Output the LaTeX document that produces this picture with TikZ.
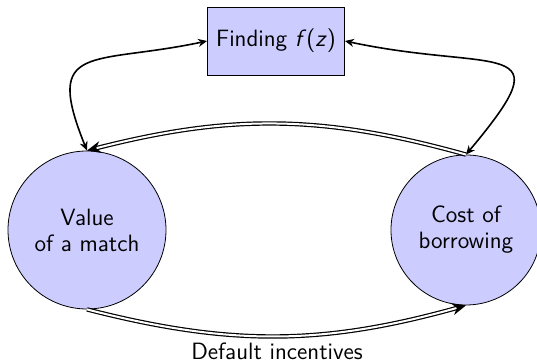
\documentclass[tikz,border=0pt]{standalone}
\usetikzlibrary{arrows.meta}
\begin{document}
\begin{tikzpicture}[x=0.5pt, y=-0.5pt,
  font=\sffamily\fontsize{11.8}{13}\selectfont,
  stepbox/.style={draw, fill=blue!20, line width=0.4pt, minimum width=68.5pt, minimum height=34pt, inner sep=0pt},
  topic/.style={circle, draw, fill=blue!20, line width=0.4pt, align=center, inner sep=0pt},
  link/.style={line width=0.8pt, {Stealth[length=4.5pt,width=4pt]}-{Stealth[length=4.5pt,width=4pt]}},
  flow/.style={double, line width=0.6pt, double distance=1pt, -{Stealth[length=7pt,width=6pt]}}]
  \useasboundingbox (0,0) rectangle (537,362);

  \node[stepbox] (find) at (276,41) {Finding \textit{f}(\textit{z})};
  \node[topic, minimum size=79pt] (value) at (87,230) {Value\\of a match};
  \node[topic, minimum size=75pt] (cost) at (466,230) {Cost of\\borrowing};

  \draw[link] (find.west) to[out=192, in=112, looseness=1.85] (value.north);
  \draw[link] (find.east) to[out=-12, in=50, looseness=2.4] (cost.north);

  \draw[flow] (cost.north) to[bend right=15] (value.north);
  \draw[flow] (value.south) to[bend right=15] (cost.south);

  \node (label) at (277,351) {Default incentives};
\end{tikzpicture}
\end{document}
